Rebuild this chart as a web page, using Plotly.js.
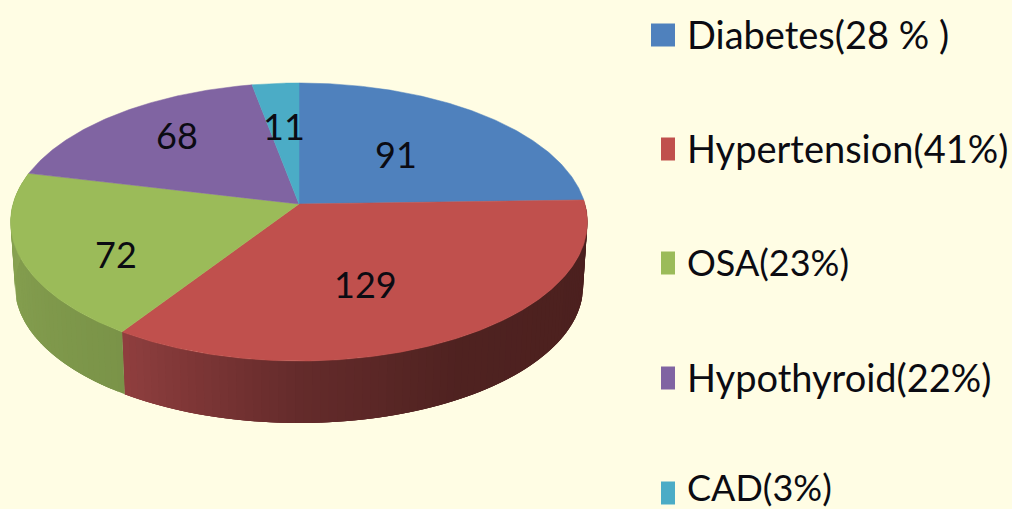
<!DOCTYPE html>
<html>
<head>
<meta charset="utf-8">
<script src="https://cdn.plot.ly/plotly-3.0.1.min.js"></script>
<style>html,body{margin:0;padding:0;background:#fffde4;overflow:hidden}</style>
</head>
<body>
<div id="chart" style="width:1012px;height:509px"></div>
<script>
// ---- data ----
const categories = ['Diabetes', 'Hypertension', 'OSA', 'Hypothyroid', 'CAD'];
const values = [91, 129, 72, 68, 11];
const legendLabels = ['Diabetes(28 % )', 'Hypertension(41%)', 'OSA(23%)', 'Hypothyroid(22%)', 'CAD(3%)'];

// ---- styles ----
const topColors = ['#4f81bd', '#c0504d', '#9bbb59', '#8064a2', '#4bacc6'];
const wallStops = {
  1: [[88, [74, 31, 30]], [150, [79, 34, 32]], [180, [100, 43, 43]], [214, [145, 63, 63]]],
  2: [[213, [122, 147, 72]], [284, [139, 166, 83]]]
};
const bg = '#fffde4', ink = '#0b0b12';
const W = 1012, H = 509;
// view geometry: perspective of the tilted disc
const persp = 0.1295, cx = 299, cy = 204, sx = 286, sy = 136.7;
const depthScale = 0.985, depthDrop = 0.471;
// label placement relative to each slice's middle
const labelRadius = [0.524, 0.585, 0.704, 0.707, 0.619];
const labelTurn = [-1.4, 7.5, -8.1, 3.3, 0.2];
// legend layout (pixels)
const legendY = [34, 148, 262, 377, 487];
const legendSize = [38, 38, 36, 38, 36];
const swatchY = [35, 149, 263, 378, 493];
const swatchLeft = [651, 661, 661, 661, 661];
const swatchRight = 675, swatchHalf = 11.5, legendTextX = 685;

// ---- projection from pie angle to axis units ----
const rad = d => d * Math.PI / 180;
function project(deg, r, lower) {
  const s = r * Math.sin(rad(deg)), d = r * Math.cos(rad(deg));
  const w = 1 + persp * d;
  let x = s / w, y = d / w;
  if (lower) { x *= depthScale; y = y * depthScale - depthDrop; }
  return [x, y];
}
function mix(stops, a) {
  let i = 0;
  while (i < stops.length - 2 && a > stops[i + 1][0]) i++;
  const [a0, c0] = stops[i], [a1, c1] = stops[i + 1];
  const t = Math.min(1, Math.max(0, (a - a0) / (a1 - a0)));
  return 'rgb(' + c0.map((c, k) => Math.round(c + (c1[k] - c) * t)).join(',') + ')';
}

const total = values.reduce((a, b) => a + b, 0);
let run = 0;
const slices = values.map(v => { const a = run; run += v; return [a / total * 360, run / total * 360]; });

const traces = [];
// side wall: overlapping strips, each painted over the one before, for the shading
Object.keys(wallStops).forEach(key => {
  const i = +key, [a0, a1] = slices[i], n = Math.ceil((a1 - a0) / 1.5);
  for (let j = 0; j < n; j++) {
    const p = a0 + (a1 - a0) * j / n;
    const q = Math.min(a1, a0 + (a1 - a0) * (j + 3) / n);
    const up = [], down = [];
    for (let a = p; a < q; a += 0.5) { up.push(project(a, 1, false)); down.unshift(project(a, 1, true)); }
    up.push(project(q, 1, false)); down.unshift(project(q, 1, true));
    const pts = up.concat(down); pts.push(pts[0]);
    const col = mix(wallStops[i], a0 + (a1 - a0) * (j + 0.5) / n);
    traces.push({
      type: 'scatter', mode: 'lines', fill: 'toself', fillcolor: col,
      x: pts.map(c => c[0]), y: pts.map(c => c[1]),
      line: { color: col, width: 0 }, hoverinfo: 'skip', showlegend: false
    });
  }
});
// top face slices
values.forEach((v, i) => {
  const [a0, a1] = slices[i], n = Math.ceil((a1 - a0) * 2);
  const xs = [0], ys = [0];
  for (let j = 0; j <= n; j++) {
    const c = project(a0 + (a1 - a0) * j / n, 1, false);
    xs.push(c[0]); ys.push(c[1]);
  }
  xs.push(0); ys.push(0);
  traces.push({
    type: 'scatter', mode: 'lines', fill: 'toself', fillcolor: topColors[i], name: categories[i],
    x: xs, y: ys, line: { color: topColors[i], width: 0.5 },
    hovertemplate: categories[i] + ': ' + v + '<extra></extra>', showlegend: false
  });
});

// value labels
const annotations = values.map((v, i) => {
  const c = project((slices[i][0] + slices[i][1]) / 2 + labelTurn[i], labelRadius[i], false);
  return {
    xref: 'x', yref: 'y', x: c[0], y: c[1], text: String(v), showarrow: false,
    xanchor: 'center', yanchor: 'middle', font: { family: 'Lato', size: 36, color: ink }
  };
});
// legend
legendLabels.forEach((t, i) => annotations.push({
  xref: 'paper', yref: 'paper', x: legendTextX / W, y: 1 - legendY[i] / H, text: t, showarrow: false,
  xanchor: 'left', yanchor: 'middle', font: { family: 'Lato', size: legendSize[i], color: ink }
}));
const shapes = legendLabels.map((t, i) => ({
  type: 'rect', xref: 'paper', yref: 'paper', layer: 'above',
  x0: swatchLeft[i] / W, x1: swatchRight / W,
  y0: 1 - (swatchY[i] + swatchHalf) / H, y1: 1 - (swatchY[i] - swatchHalf) / H,
  fillcolor: topColors[i], line: { width: 0 }
}));

Plotly.newPlot('chart', traces, {
  width: W, height: H,
  margin: { l: 0, r: 0, t: 0, b: 0, pad: 0 },
  paper_bgcolor: bg, plot_bgcolor: bg, showlegend: false,
  xaxis: { visible: false, fixedrange: true, range: [-cx / sx, (W - cx) / sx] },
  yaxis: { visible: false, fixedrange: true, range: [-(H - cy) / sy, cy / sy] },
  annotations, shapes
}, { displayModeBar: false, responsive: false });
</script>
</body>
</html>
